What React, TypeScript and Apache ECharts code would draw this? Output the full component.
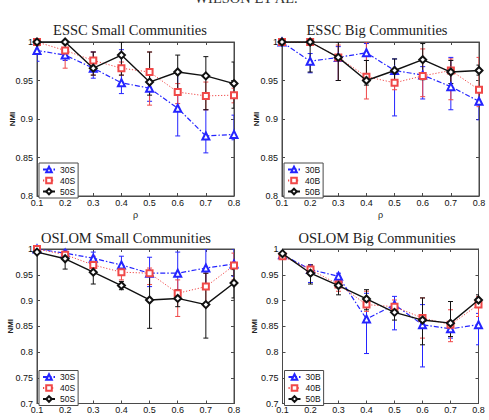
import React, { useEffect, useRef } from "react";
import * as echarts from "echarts";

// Mixing parameter values on the x axis
const rho = [0.1, 0.2, 0.3, 0.4, 0.5, 0.6, 0.7, 0.8];

// ESSC, small communities (mean NMI and error-bar bounds)
const esscS30 = [0.989, 0.983, 0.966, 0.947, 0.94, 0.914, 0.878, 0.88];
const esscS30Lo = [0.975, 0.976, 0.953, 0.933, 0.923, 0.878, 0.856, 0.873];
const esscS30Hi = [0.995, 0.99, 0.987, 0.99, 0.957, 0.963, 0.912, 0.905];
const esscS40 = [1.0, 0.989, 0.976, 0.966, 0.961, 0.935, 0.93, 0.931];
const esscS40Lo = [1.0, 0.966, 0.957, 0.957, 0.918, 0.92, 0.912, 0.921];
const esscS40Hi = [1.0, 0.992, 0.987, 0.974, 0.987, 0.946, 0.948, 0.94];
const esscS50 = [1.0, 1.0, 0.966, 0.983, 0.948, 0.961, 0.956, 0.946];
const esscS50Lo = [1.0, 1.0, 0.957, 0.957, 0.931, 0.938, 0.912, 0.914];
const esscS50Hi = [1.0, 1.0, 0.987, 1.0, 0.987, 0.983, 0.981, 0.974];

// ESSC, big communities
const esscB30 = [1.0, 0.975, 0.98, 0.986, 0.963, 0.957, 0.942, 0.923];
const esscB30Lo = [1.0, 0.96, 0.95, 0.976, 0.904, 0.926, 0.912, 0.899];
const esscB30Hi = [1.0, 0.985, 0.994, 0.998, 0.978, 0.968, 0.98, 0.938];
const esscB40 = [1.0, 1.0, 0.98, 0.955, 0.947, 0.956, 0.963, 0.938];
const esscB40Lo = [1.0, 1.0, 0.95, 0.926, 0.938, 0.929, 0.925, 0.916];
const esscB40Hi = [1.0, 1.0, 0.996, 1.0, 0.959, 0.991, 0.978, 0.98];
const esscB50 = [1.0, 1.0, 0.98, 0.95, 0.963, 0.977, 0.961, 0.963];
const esscB50Lo = [1.0, 0.961, 0.95, 0.944, 0.948, 0.951, 0.946, 0.957];
const esscB50Hi = [1.0, 1.0, 1.0, 0.976, 0.978, 0.998, 0.976, 0.97];

// OSLOM, small communities
const oslomS30 = [1.0, 0.992, 0.982, 0.969, 0.953, 0.953, 0.963, 0.971];
const oslomS30Lo = [1.0, 0.985, 0.969, 0.953, 0.927, 0.911, 0.924, 0.947];
const oslomS30Hi = [1.0, 0.998, 0.994, 0.986, 0.984, 0.994, 1.0, 1.0];
const oslomS40 = [1.0, 0.989, 0.969, 0.955, 0.953, 0.914, 0.927, 0.968];
const oslomS40Lo = [1.0, 0.982, 0.956, 0.94, 0.931, 0.869, 0.888, 0.94];
const oslomS40Hi = [1.0, 0.994, 0.986, 0.966, 0.963, 0.94, 0.953, 0.992];
const oslomS50 = [0.994, 0.981, 0.955, 0.929, 0.901, 0.904, 0.892, 0.934];
const oslomS50Lo = [0.991, 0.961, 0.932, 0.921, 0.846, 0.888, 0.827, 0.905];
const oslomS50Hi = [0.997, 0.992, 0.969, 0.937, 0.953, 0.921, 0.953, 0.96];

// OSLOM, big communities
const oslomB30 = [0.989, 0.96, 0.947, 0.864, 0.892, 0.853, 0.845, 0.853];
const oslomB30Lo = [0.985, 0.935, 0.927, 0.797, 0.843, 0.771, 0.827, 0.814];
const oslomB30Hi = [0.993, 0.969, 0.953, 0.914, 0.908, 0.892, 0.859, 0.875];
const oslomB40 = [0.986, 0.96, 0.931, 0.892, 0.888, 0.866, 0.853, 0.892];
const oslomB40Lo = [0.983, 0.95, 0.918, 0.879, 0.875, 0.827, 0.82, 0.869];
const oslomB40Hi = [0.989, 0.969, 0.94, 0.918, 0.901, 0.905, 0.882, 0.908];
const oslomB50 = [0.991, 0.953, 0.929, 0.903, 0.877, 0.862, 0.856, 0.901];
const oslomB50Lo = [0.988, 0.932, 0.911, 0.882, 0.862, 0.814, 0.83, 0.892];
const oslomB50Hi = [0.994, 0.969, 0.94, 0.921, 0.892, 0.905, 0.898, 0.911];

const smallNames = ["30S", "40S", "50S"];
const bigNames = ["30B", "40B", "50B"];

const SANS = "Liberation Sans";
const SERIF = "Liberation Serif";
const AXIS = "#4a4a4a";

const seriesStyles = [
  { color: "#2424ff", symbol: "emptyTriangle", size: 7, dash: [5, 2, 1.5, 2] as any, width: 1.2 },
  { color: "#f04848", symbol: "emptyRect", size: 6, dash: [1.2, 1.8] as any, width: 1 },
  { color: "#111111", symbol: "emptyDiamond", size: 7, dash: "solid" as any, width: 1.4 },
];

const panels = [
  {
    title: "ESSC Small Communities",
    names: smallNames,
    sets: [
      [esscS30, esscS30Lo, esscS30Hi],
      [esscS40, esscS40Lo, esscS40Hi],
      [esscS50, esscS50Lo, esscS50Hi],
    ],
    yMin: 0.8,
    box: { left: 37, top: 42, width: 197, height: 154 },
    titleX: 130,
    titleY: 30,
    nmiX: 12,
  },
  {
    title: "ESSC Big Communities",
    names: bigNames,
    sets: [
      [esscB30, esscB30Lo, esscB30Hi],
      [esscB40, esscB40Lo, esscB40Hi],
      [esscB50, esscB50Lo, esscB50Hi],
    ],
    yMin: 0.8,
    box: { left: 282, top: 42, width: 197, height: 154 },
    titleX: 377,
    titleY: 30,
    nmiX: 256,
  },
  {
    title: "OSLOM Small Communities",
    names: smallNames,
    sets: [
      [oslomS30, oslomS30Lo, oslomS30Hi],
      [oslomS40, oslomS40Lo, oslomS40Hi],
      [oslomS50, oslomS50Lo, oslomS50Hi],
    ],
    yMin: 0.7,
    box: { left: 37, top: 249, width: 197, height: 154.5 },
    titleX: 126,
    titleY: 237.5,
    nmiX: 10,
  },
  {
    title: "OSLOM Big Communities",
    names: bigNames,
    sets: [
      [oslomB30, oslomB30Lo, oslomB30Hi],
      [oslomB40, oslomB40Lo, oslomB40Hi],
      [oslomB50, oslomB50Lo, oslomB50Hi],
    ],
    yMin: 0.7,
    box: { left: 282.5, top: 249, width: 196, height: 154.5 },
    titleX: 377,
    titleY: 237.5,
    nmiX: 254,
  },
];

function buildOption() {
  const grid: any[] = [];
  const xAxis: any[] = [];
  const yAxis: any[] = [];
  const series: any[] = [];
  const legend: any[] = [];
  const graphic: any[] = [];

  // running page header, cut by the top edge of the page
  graphic.push({
    type: "text",
    x: 246,
    y: 5,
    style: {
      text: "WILSON ET AL.",
      font: `14.5px "${SERIF}"`,
      fill: "#333",
      align: "center",
      verticalAlign: "bottom",
    },
  });

  panels.forEach((p, i) => {
    const b = p.box;
    grid.push({
      left: b.left,
      top: b.top,
      width: b.width,
      height: b.height,
      show: true,
      borderColor: AXIS,
      borderWidth: 1,
      backgroundColor: "transparent",
    });

    const tick = { show: true, inside: true, length: 3, lineStyle: { color: AXIS, width: 1 } };
    const line = { show: true, lineStyle: { color: AXIS, width: 1 } };

    xAxis.push({
      gridIndex: i,
      type: "value",
      min: 0.1,
      max: 0.8,
      interval: 0.1,
      position: "bottom",
      axisLine: line,
      axisTick: tick,
      splitLine: { show: false },
      axisLabel: {
        margin: 2,
        fontSize: 9,
        fontFamily: SANS,
        color: "#111",
        formatter: (v: number) => v.toFixed(1),
      },
    });
    xAxis.push({
      gridIndex: i,
      type: "value",
      min: 0.1,
      max: 0.8,
      interval: 0.1,
      position: "top",
      axisLine: line,
      axisTick: tick,
      splitLine: { show: false },
      axisLabel: { show: false },
    });
    yAxis.push({
      gridIndex: i,
      type: "value",
      min: p.yMin,
      max: 1,
      interval: 0.05,
      position: "left",
      axisLine: line,
      axisTick: tick,
      splitLine: { show: false },
      axisLabel: {
        margin: 4,
        fontSize: 9,
        fontFamily: SANS,
        color: "#111",
        formatter: (v: number) => String(+v.toFixed(2)),
      },
    });
    yAxis.push({
      gridIndex: i,
      type: "value",
      min: p.yMin,
      max: 1,
      interval: 0.05,
      position: "right",
      axisLine: line,
      axisTick: tick,
      splitLine: { show: false },
      axisLabel: { show: false },
    });

    const xi = 2 * i;
    const yi = 2 * i;

    p.sets.forEach((set, j) => {
      const st = seriesStyles[j];
      const [mean, lo, hi] = set;
      // vertical error bars with small caps
      series.push({
        type: "custom",
        name: `${p.names[j]} range`,
        xAxisIndex: xi,
        yAxisIndex: yi,
        clip: true,
        z: 2 + j,
        data: rho.map((x, k) => [x, lo[k], hi[k]]),
        encode: { x: 0, y: [1, 2] },
        renderItem: (_params: any, api: any) => {
          const x = api.value(0);
          const top = api.coord([x, api.value(2)]);
          const bot = api.coord([x, api.value(1)]);
          const cap = 2.5;
          const s = { stroke: st.color, lineWidth: 1 };
          return {
            type: "group",
            children: [
              { type: "line", shape: { x1: top[0], y1: top[1], x2: bot[0], y2: bot[1] }, style: s },
              { type: "line", shape: { x1: top[0] - cap, y1: top[1], x2: top[0] + cap, y2: top[1] }, style: s },
              { type: "line", shape: { x1: bot[0] - cap, y1: bot[1], x2: bot[0] + cap, y2: bot[1] }, style: s },
            ],
          };
        },
      });
      series.push({
        type: "line",
        name: p.names[j],
        xAxisIndex: xi,
        yAxisIndex: yi,
        z: 5 + j,
        data: rho.map((x, k) => [x, mean[k]]),
        symbol: st.symbol,
        symbolSize: st.size,
        showAllSymbol: true,
        lineStyle: { color: st.color, width: st.width, type: st.dash },
        itemStyle: { color: st.color, borderWidth: 1 },
      });
    });

    legend.push({
      orient: "vertical",
      left: b.left + 2,
      top: b.top + b.height - 33,
      data: p.names,
      itemWidth: 12,
      itemHeight: 7,
      itemGap: 2,
      padding: [2, 3, 2, 3],
      borderColor: AXIS,
      borderWidth: 1,
      backgroundColor: "#fff",
      selectedMode: false,
      z: 20,
      textStyle: { fontSize: 8.5, fontFamily: SANS, color: "#111" },
    });

    graphic.push({
      type: "text",
      x: p.titleX,
      y: p.titleY,
      style: {
        text: p.title,
        font: `14.5px "${SERIF}"`,
        fill: "#222",
        align: "center",
        verticalAlign: "middle",
      },
    });
    graphic.push({
      type: "text",
      x: p.nmiX,
      y: b.top + b.height / 2,
      rotation: Math.PI / 2,
      style: {
        text: "NMI",
        font: `bold 8px "${SANS}"`,
        fill: "#222",
        align: "center",
        verticalAlign: "middle",
      },
    });
    graphic.push({
      type: "text",
      x: b.left + b.width / 2,
      y: b.top + b.height + 19,
      style: {
        text: "ρ",
        font: `9px "${SANS}"`,
        fill: "#222",
        align: "center",
        verticalAlign: "middle",
      },
    });
  });

  return {
    animation: false,
    backgroundColor: "#fff",
    grid,
    xAxis,
    yAxis,
    legend,
    series,
    graphic,
  };
}

export default function App() {
  const ref = useRef<HTMLDivElement>(null);
  useEffect(() => {
    if (!ref.current) return;
    const chart = echarts.init(ref.current, undefined, { renderer: "svg" });
    chart.setOption(buildOption() as any);
    return () => chart.dispose();
  }, []);
  return (
    <div
      ref={ref}
      style={{ position: "absolute", left: 0, top: 0, width: 489, height: 420 }}
    />
  );
}
